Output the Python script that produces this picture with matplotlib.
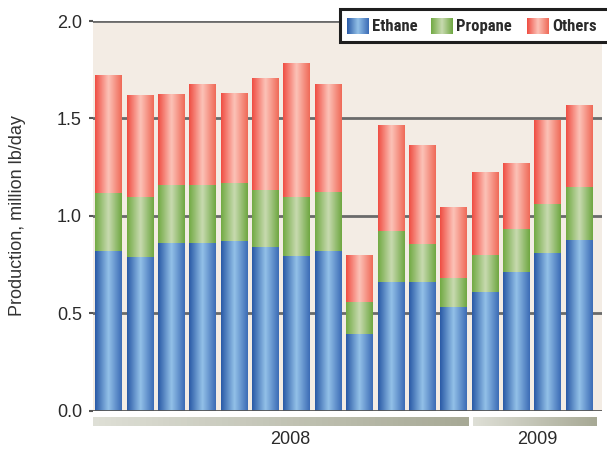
import numpy as np
import matplotlib
matplotlib.use('Agg')
import matplotlib.pyplot as plt
from matplotlib import font_manager
from matplotlib.colors import LinearSegmentedColormap
from matplotlib.patches import Rectangle

# monthly production, million lb/day (Jan 2008 - Apr 2009)
months = ['Jan', 'Feb', 'Mar', 'Apr', 'May', 'Jun', 'Jul', 'Aug', 'Sep', 'Oct', 'Nov', 'Dec',
          'Jan', 'Feb', 'Mar', 'Apr']
ethane = [0.82, 0.79, 0.86, 0.86, 0.87, 0.84, 0.795, 0.82, 0.395, 0.66, 0.66, 0.53,
          0.61, 0.71, 0.81, 0.875]
propane = [0.295, 0.305, 0.30, 0.30, 0.30, 0.295, 0.30, 0.30, 0.165, 0.26, 0.195, 0.15,
           0.19, 0.22, 0.25, 0.275]
others = [0.605, 0.52, 0.465, 0.515, 0.46, 0.57, 0.685, 0.55, 0.24, 0.54, 0.505, 0.36,
          0.425, 0.335, 0.43, 0.42]
series_names = ['Ethane', 'Propane', 'Others']
years = ['2008', '2009']
year_months = [12, 4]
yticks = [0.0, 0.5, 1.0, 1.5, 2.0]

plt.rcParams['font.family'] = ['Liberation Sans', 'DejaVu Sans']


# narrow bold face for the legend, whichever is installed
def narrow_family():
    for fam in ['Liberation Sans Narrow', 'DejaVu Sans Condensed', 'Roboto Condensed',
                'Open Sans Condensed', 'Roboto']:
        try:
            font_manager.findfont(font_manager.FontProperties(family=fam, weight='bold'),
                                  fallback_to_default=False)
            return fam
        except Exception:
            pass
    return 'DejaVu Sans'


legend_family = narrow_family()

# left edge / highlight / right edge of each shaded bar
shades = {
    'Ethane': ['#2a5aa6', '#93c1e8', '#3c6cb6'],
    'Propane': ['#72aa44', '#c8dab0', '#6fa742'],
    'Others': ['#ef4e43', '#fcc3b8', '#ef6a58'],
}
band_shade = ['#dedfd6', '#a7a995']


def shade_map(cols):
    return LinearSegmentedColormap.from_list('s', [(0, cols[0]), (0.5, cols[1]), (1, cols[2])])


grad = np.linspace(0, 1, 64).reshape(1, -1)

W, H = 607, 449
fig = plt.figure(figsize=(W / 100, H / 100), dpi=100)
fig.patch.set_facecolor('white')

ax_l, ax_r, ax_t, ax_b = 93, 602, 21, 410.7
ax = fig.add_axes([ax_l / W, 1 - ax_b / H, (ax_r - ax_l) / W, (ax_b - ax_t) / H])
ax.set_facecolor('#f3ece4')

x = np.arange(len(months))
width = 0.845
bottom = np.zeros(len(months))
for name, vals in zip(series_names, [ethane, propane, others]):
    bars = ax.bar(x, vals, width, bottom=bottom, facecolor='none', edgecolor='none', zorder=3)
    cmap = shade_map(shades[name])
    for b in bars:
        x0, y0 = b.get_x(), b.get_y()
        ax.imshow(grad, cmap=cmap, aspect='auto', interpolation='bilinear',
                  extent=(x0, x0 + b.get_width(), y0, y0 + b.get_height()), zorder=3)
    bottom += np.array(vals)

ax.set_xlim(-0.494, 15.73)
ax.set_ylim(0, 2.0)
ax.set_yticks(yticks)
ax.set_yticklabels(['%.1f' % v for v in yticks], fontsize=13, color='#2a2a2a')
ax.set_xticks([])
for v in yticks[1:]:
    ax.axhline(v, color='#6a6a6a', lw=2, zorder=2)
ax.axhline(0, color='#555555', lw=2, zorder=4)
for s in ax.spines.values():
    s.set_visible(False)
ax.tick_params(axis='y', length=3, width=1.5, color='#555555', pad=5)
ax.set_ylabel('Production, million lb/day', fontsize=13, color='#333333')
ax.yaxis.set_label_coords(-0.132, 0.5)

# year bands under the month bars
band = fig.add_axes([ax_l / W, 1 - 425.7 / H, (ax_r - ax_l) / W, 8.7 / H], sharex=ax)
band.axis('off')
band.set_ylim(0, 1)
ends = np.cumsum(year_months)
spans = [(-0.494, ends[0] - 0.54), (ends[0] - 0.38, ends[1] - 0.43)]
label_x = [5.8, 13.66]
bcmap = LinearSegmentedColormap.from_list('band', band_shade)
for (s0, s1), yr, lx in zip(spans, years, label_x):
    band.imshow(grad, cmap=bcmap, aspect='auto', extent=(s0, s1, 0, 1))
    band.text(lx, -1.64, yr, ha='center', va='center', fontsize=13, color='#2a2a2a',
              clip_on=False)
band.set_xlim(-0.494, 15.73)

# legend box across the top right
top = fig.add_axes([0, 0, 1, 1])
top.set_xlim(0, W)
top.set_ylim(H, 0)
top.axis('off')
top.add_patch(Rectangle((340, 9), 280, 33, facecolor='white', edgecolor='#1e1e1e', lw=2.2,
                        zorder=1))
swatch_x = [347, 431, 527]
for name, sx in zip(series_names, swatch_x):
    top.imshow(grad, cmap=shade_map(shades[name]), aspect='auto', interpolation='bilinear',
               extent=(sx, sx + 22, 34, 18), zorder=2)
    top.text(sx + 25, 26.5, name, fontsize=12, fontweight='bold', color='#2a2a2a',
             family=[legend_family, 'DejaVu Sans'], ha='left', va='center', zorder=3)
top.set_xlim(0, W)
top.set_ylim(H, 0)

fig.savefig('out.png', dpi=100, facecolor='white')
